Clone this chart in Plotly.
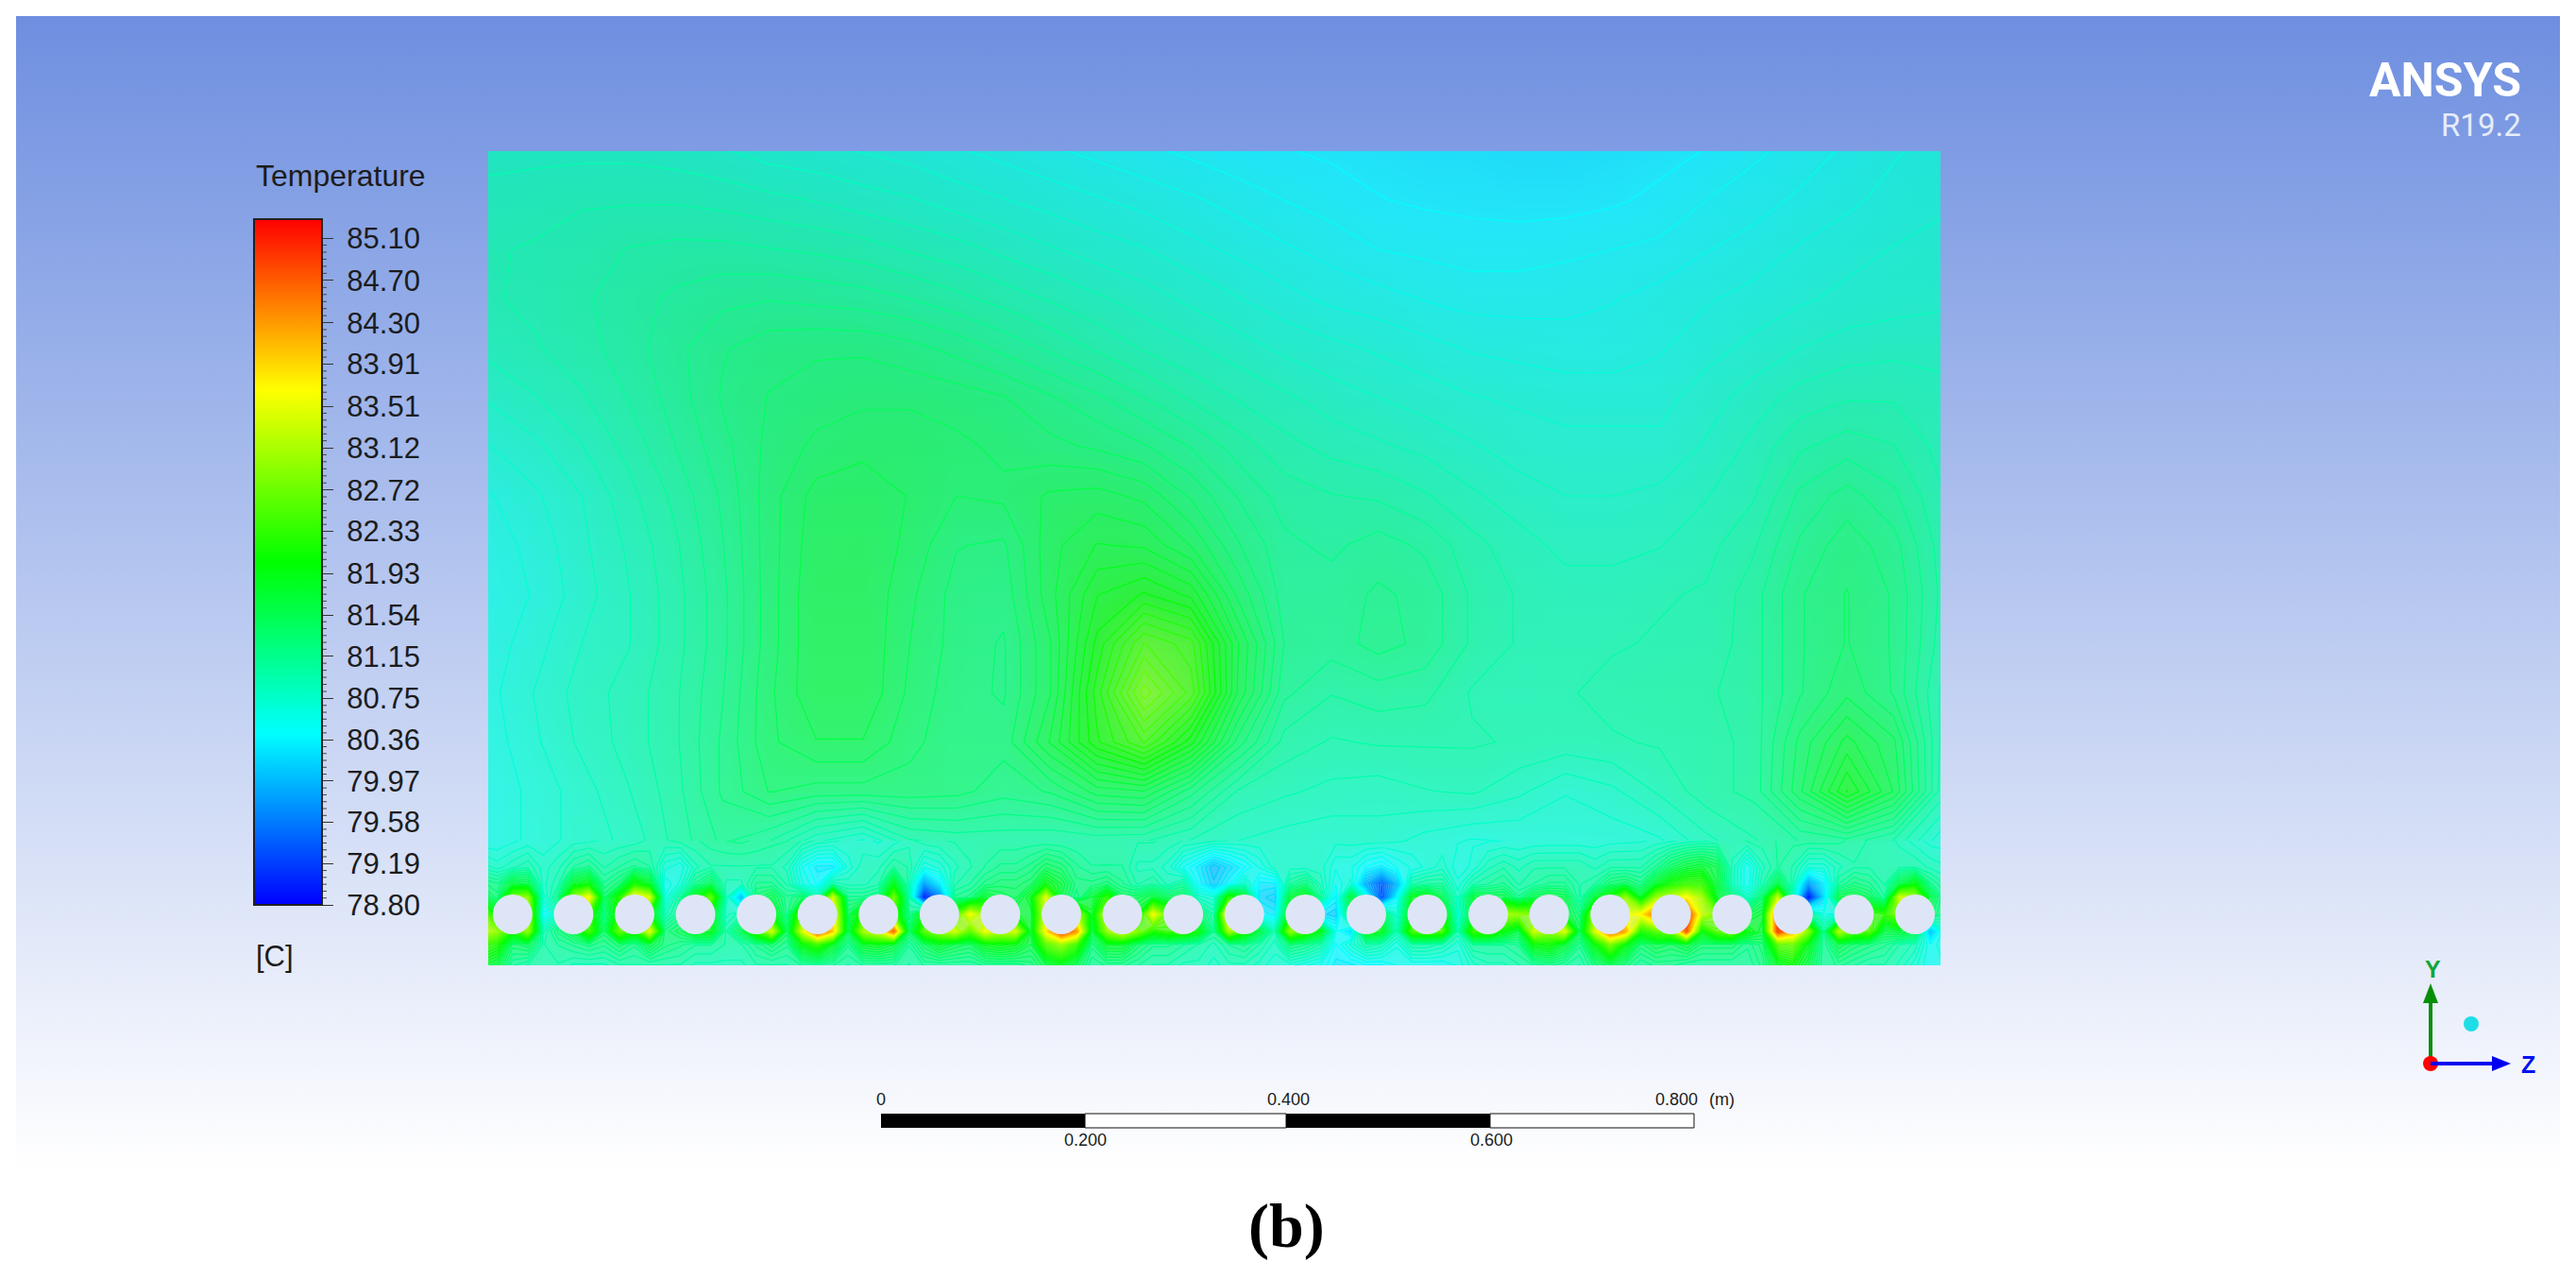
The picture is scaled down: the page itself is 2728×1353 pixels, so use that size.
import numpy as np
import plotly.graph_objects as go

# ---------- chart data (temperatures in deg C) ----------
legend_title = "Temperature"
legend_unit = "[C]"
legend_ticks = [85.10, 84.70, 84.30, 83.91, 83.51, 83.12, 82.72, 82.33, 81.93,
                81.54, 81.15, 80.75, 80.36, 79.97, 79.58, 79.19, 78.80]
rainbow = [[0.0, "rgb(0,0,255)"], [0.25, "rgb(0,255,255)"], [0.5, "rgb(0,255,0)"],
           [0.75, "rgb(255,255,0)"], [1.0, "rgb(255,0,0)"]]
t_min, t_max = 78.80, 85.28

# upper tank region: 15 rows top to bottom, 32 columns left to right
upper_r00 = [80.9,80.9,80.9,80.9,80.88,80.85,80.8,80.78,80.75,80.72,80.68,80.64,80.6,80.56,80.52,80.48,80.44,80.42,80.4,80.38,80.36,80.35,80.33,80.33,80.35,80.38,80.42,80.48,80.54,80.6,80.66,80.7]
upper_r01 = [80.95,80.97,81,81,81,80.98,80.95,80.92,80.88,80.85,80.8,80.76,80.72,80.68,80.64,80.6,80.55,80.5,80.46,80.42,80.4,80.39,80.38,80.38,80.4,80.44,80.5,80.55,80.6,80.65,80.7,80.74]
upper_r02 = [81,81.02,81.05,81.1,81.12,81.12,81.1,81.08,81.05,81,80.96,80.9,80.85,80.8,80.76,80.7,80.65,80.6,80.55,80.5,80.48,80.46,80.46,80.48,80.5,80.52,80.58,80.62,80.68,80.72,80.76,80.78]
upper_r03 = [81,81.03,81.08,81.14,81.2,81.24,81.26,81.24,81.22,81.18,81.12,81.06,81,80.94,80.88,80.82,80.76,80.7,80.65,80.62,80.58,80.55,80.55,80.56,80.58,80.62,80.66,80.7,80.74,80.78,80.8,80.82]
upper_r04 = [80.95,81,81.06,81.14,81.24,81.34,81.4,81.42,81.42,81.38,81.32,81.24,81.16,81.08,81,80.94,80.88,80.82,80.78,80.74,80.7,80.66,80.64,80.62,80.62,80.66,80.72,80.78,80.84,80.88,80.9,80.9]
upper_r05 = [80.85,80.92,81,81.1,81.22,81.36,81.44,81.48,81.5,81.5,81.48,81.44,81.36,81.28,81.18,81.08,81,80.94,80.88,80.84,80.8,80.76,80.74,80.72,80.72,80.72,80.8,80.88,80.96,81,81,80.95]
upper_r06 = [80.75,80.82,80.92,81.04,81.18,81.32,81.46,81.54,81.58,81.58,81.54,81.5,81.46,81.42,81.36,81.26,81.14,81.04,80.98,80.94,80.9,80.85,80.8,80.78,80.78,80.78,80.85,80.95,81.08,81.14,81.1,80.98]
upper_r07 = [80.66,80.74,80.84,80.98,81.12,81.28,81.48,81.64,81.66,81.6,81.52,81.54,81.62,81.64,81.58,81.42,81.26,81.14,81.1,81.08,81.02,80.94,80.88,80.84,80.84,80.86,80.92,81,81.2,81.3,81.2,81.02]
upper_r08 = [80.62,80.7,80.82,80.94,81.08,81.26,81.48,81.66,81.68,81.58,81.44,81.42,81.66,81.78,81.76,81.6,81.36,81.2,81.16,81.22,81.16,81.04,80.96,80.9,80.9,80.92,80.98,81.08,81.28,81.4,81.3,81.06]
upper_r09 = [80.6,80.68,80.8,80.92,81.06,81.24,81.48,81.68,81.68,81.54,81.4,81.38,81.66,81.94,82.04,81.92,81.5,81.22,81.22,81.28,81.24,81.08,81,80.96,80.96,81,81.02,81.14,81.34,81.44,81.34,81.08]
upper_r10 = [80.62,80.72,80.84,80.92,81.06,81.24,81.48,81.68,81.68,81.52,81.4,81.34,81.6,82.06,82.46,82.32,81.7,81.26,81.22,81.3,81.24,81.08,81,81,81,81.02,81.04,81.14,81.34,81.44,81.34,81.06]
upper_r11 = [80.64,80.76,80.88,80.96,81.08,81.26,81.5,81.68,81.68,81.5,81.38,81.34,81.6,82.16,82.76,82.42,81.68,81.2,81.1,81.14,81.12,81,80.98,81,81.04,81.06,81.08,81.14,81.34,81.5,81.34,81]
upper_r12 = [80.62,80.74,80.86,80.96,81.08,81.28,81.5,81.6,81.6,81.46,81.38,81.38,81.7,82.1,82.38,81.98,81.4,81.06,81,81.02,81.02,81.02,81.0,80.98,81,81.02,81.06,81.12,81.46,81.72,81.54,81]
upper_r13 = [80.6,80.7,80.8,80.92,81.06,81.28,81.44,81.4,81.4,81.4,81.38,81.3,81.36,81.56,81.6,81.3,81,80.94,80.9,80.88,80.92,80.94,80.86,80.76,80.82,80.94,81.06,81.12,81.5,81.95,81.6,80.98]
upper_r14 = [80.6,80.7,80.8,80.86,81.04,81.2,81.1,80.86,80.74,81,81.04,81.04,81.02,81.04,81.02,80.92,80.84,80.8,80.78,80.8,80.72,80.66,80.68,80.7,80.7,80.74,80.9,81,81.1,81.15,81,80.7]

# tube band: for each tube, 4 columns (gap, left, centre, right), each with 8 values top to bottom
tube_00 = [[80.6,80.9,81.3,81.6,82.8,83.3,82.4,81.8],[80.6,80.8,81.2,81.3,82.0,83.0,82.2,81.6],[80.65,80.9,81.7,82.8,82,82.2,81.4,81.1],[80.7,81.0,81.6,83.0,83.2,83.0,81.5,81.0]]
tube_01 = [[80.7,80.8,80.8,80.7,80.4,80.9,81,81],[80.75,80.9,81.0,81.2,80.9,81.3,81.1,81],[80.8,81.1,81.8,83.0,82,81.6,81.2,80.9],[80.82,81.2,82.0,83.7,82.4,82.5,81.3,80.9]]
tube_02 = [[80.85,81.0,81.2,81.4,81.2,81.4,81.2,80.9],[80.86,81.1,81.4,82.2,82.3,82.7,81.4,81.0],[80.88,81.2,82.2,83.8,82.5,82.2,81.2,81],[80.95,81.1,81.8,83.4,82,83.5,81.6,81.0]]
tube_03 = [[81,80.7,80.5,80.6,80.9,81.3,81.3,81.0],[81.04,80.6,80.7,81.1,81.2,81.5,81.2,81],[81.08,80.9,81.2,82.0,81.8,81.9,81.1,80.9],[81.14,81,81.5,82.7,81.9,81.9,81.1,80.9]]
tube_04 = [[81.18,81,80.9,80.9,80.8,81,81,80.9],[81.2,81,80.9,80.0,81,81.5,81,80.9],[81.16,81,81.2,81.4,81.6,82.4,81.2,81],[81.12,81,81.2,81.6,82,83.4,81.4,81]]
tube_05 = [[81.1,80.9,81,81.2,81.2,81.4,81.2,81],[81,80.5,80.6,81.4,82.7,83.4,82,81.1],[80.9,80.3,80.4,81,81.5,84.9,82.4,81.1],[80.86,80.3,81,83.4,83.8,84,81.8,81.1]]
tube_06 = [[80.82,80.7,80.9,81.2,81.5,81.5,81.2,81],[80.78,80.9,80.9,81.2,82.3,83.1,81.8,81.1],[80.74,80.9,81,81.3,82,83.5,81.9,81.1],[80.8,81.1,81.9,82.8,82.5,84.6,81.7,81.1]]
tube_07 = [[80.9,81,80.9,81,81.2,81.4,81.1,81],[80.98,80.6,79.8,79.0,82,82.6,81.5,81.1],[81,80.7,80.3,79.6,81.8,83,81.8,81.1],[81.02,80.9,81,81.2,82.4,83.4,81.6,81.1]]
tube_08 = [[81.04,81,81.1,81.3,83.6,82.6,81.5,81.1],[81.04,81.1,81.3,81.8,83.0,83.6,81.9,81.2],[81.04,81.2,81.4,81.6,81.8,83.2,82,81.2],[81.04,81.2,81.4,81.5,81.8,83.4,81.9,81.2]]
tube_09 = [[81.04,81.3,81.5,81.9,81.7,81.7,81.6,81.3],[81.03,81.5,82,83.5,83.4,83.8,82.6,81.6],[81.02,81.4,81.7,81.6,82.5,85,83,81.8],[81.02,81.2,81.3,81.2,83.2,84.3,82.4,81.5]]
tube_10 = [[81.03,81.1,81.3,81.7,81.8,81.6,81.3,81.1],[81.04,81.1,81.4,82.3,83.4,83,81.8,81.2],[81.03,81.1,81.2,81.5,82.2,83.5,81.8,81.2],[81.02,80.9,81,81.5,81.8,82.9,81.4,81.1]]
tube_11 = [[81.02,80.9,81.1,81.7,83.6,82.2,81.2,81],[80.98,80.8,80.9,81.5,82.6,82.4,81.2,81],[80.92,80.5,81.1,81.5,81.8,82.4,81.1,80.9],[80.9,80.3,80.4,80.8,81.4,82,81,80.9]]
tube_12 = [[80.86,80,80.1,80.7,81,81.1,80.9,80.8],[80.84,80.2,80.4,82.3,84.2,83.1,81.1,80.9],[80.82,80.4,80.8,81.9,81.6,82.3,81.2,80.9],[80.81,80.6,80.3,80.2,80.4,81.6,81,80.8]]
tube_13 = [[80.8,80.8,80.3,80.1,80.3,80.9,80.8,80.7],[80.8,80.8,81.1,81.7,82.0,83,81.3,80.7],[80.79,80.8,81.3,82,81.6,82.4,81.2,80.6],[80.78,80.8,80.9,81.1,80.2,81.9,81,80.5]]
tube_14 = [[80.78,80.6,80.5,80.3,80.1,80.5,80.4,80.3],[80.79,80.6,80.7,81.7,81.5,80.2,80.7,80.3],[80.8,80.4,79.9,80.6,81.6,82,81,80.4],[80.8,80.3,79.4,79.3,81.5,81.9,80.9,80.4]]
tube_15 = [[80.77,80.5,80,80.4,80.7,80.9,80.6,80.5],[80.75,80.6,81,81.9,82,82.5,81,80.5],[80.72,80.7,81.1,82,81.7,82.6,81,80.5],[80.7,80.8,81.1,81.5,82.2,82.5,80.9,80.5]]
tube_16 = [[80.68,80.6,80.7,80.8,80.7,80.9,80.7,80.6],[80.66,80.7,81,81.7,81.7,82.4,81.1,80.8],[80.66,80.9,81.1,81.6,81.6,82.5,81.1,80.9],[80.67,81,81.2,81.6,83.1,82,81.1,80.9]]
tube_17 = [[80.68,80.9,81,81.2,83,81.6,81.2,81],[80.69,81,81.1,81.6,82.8,83.4,82,81.1],[80.7,81,81.2,81.7,81.6,83,82.1,81.2],[80.7,81,81.2,81.6,81.7,83.5,81.7,81.1]]
tube_18 = [[80.7,81,81,81,81.3,81.5,81.2,81],[80.7,80.9,81.1,81.7,83.0,83.4,82,81.3],[80.72,81,81.4,82.2,82,84.7,82.8,81.5],[80.73,81,81.5,83,83.5,84.2,82,81.3]]
tube_19 = [[80.74,81,81.3,81.8,83.7,82.2,81.4,81.1],[80.78,81.2,81.8,83,84.6,82.6,81.6,81.2],[80.82,81.5,82.2,83.3,83,82.8,81.5,81.2],[80.88,81.7,82.4,83.7,85.1,84.7,81.7,81.1]]
tube_20 = [[80.9,81.8,82.4,83.1,83.3,82,81.4,81.1],[80.94,81.6,81.7,81.8,82.8,82.6,81.4,81.1],[80.98,80.9,80.9,81.3,81.6,82.8,81.4,81.1],[81.02,80.5,80.5,80.8,81.6,82,81.2,81.1]]
tube_21 = [[81.06,80.9,81,81.4,81.8,81.7,81.4,81.3],[81.1,81.1,81.6,83.3,84.8,84.9,82.6,81.8],[81.12,81,80.9,80.8,82.5,84.2,82.7,82],[81.14,80.7,79.8,78.9,81.2,82.9,81.9,81.6]]
tube_22 = [[81.15,80.7,80.3,80.2,80.6,81.1,81.1,81.1],[81.12,80.9,81.1,81.6,80.5,83.2,81.6,81.2],[81.06,81,81.3,81.7,81.7,82.6,81.4,81.1],[81,81,81.2,81.5,82.4,82.6,81.3,81]]
tube_23 = [[80.98,81,81,81.1,82.3,81.6,81.2,81],[80.9,81.0,81.6,83.4,83.0,81.7,81,80.9],[80.8,81,82,83.1,81.6,81.6,80.9,80.7],[80.72,80.9,81.2,81.6,81.4,80,80.5,80.5]]
band_end = [[80.7,80.85,81,81.1,81.1,80.8,80.7,80.6]]

tube_centres_m = [0.024,0.084,0.144,0.204,0.264,0.324,0.384,0.444,0.504,0.564,0.624,0.684,
                  0.744,0.804,0.864,0.924,0.984,1.044,1.104,1.164,1.224,1.284,1.344,1.404]
scale_labels_top = ["0", "0.400", "0.800"]
scale_labels_bottom = ["0.200", "0.600"]

# ---------- assemble ----------
W, H = 2728, 1353
PX_PER_M = 1076.25
F_L, F_R, F_T, F_S, F_B = 517, 2055, 160, 890, 1022   # field frame in page pixels
px = lambda v: v / W
py = lambda v: 1 - v / H

upper_z = np.array([upper_r00, upper_r01, upper_r02, upper_r03, upper_r04, upper_r05, upper_r06,
                    upper_r07, upper_r08, upper_r09, upper_r10, upper_r11, upper_r12, upper_r13,
                    upper_r14])[::-1]
field_w = (F_R - F_L) / PX_PER_M
field_h = (F_B - F_T) / PX_PER_M
seam = (F_B - F_S) / PX_PER_M
upper_x = np.linspace(0, field_w, upper_z.shape[1])
upper_y = np.linspace(seam, field_h, upper_z.shape[0])

tubes = [tube_00, tube_01, tube_02, tube_03, tube_04, tube_05, tube_06, tube_07, tube_08, tube_09,
         tube_10, tube_11, tube_12, tube_13, tube_14, tube_15, tube_16, tube_17, tube_18, tube_19,
         tube_20, tube_21, tube_22, tube_23, band_end]
band_cols = np.array([c for t in tubes for c in t])
band_z = band_cols.T[::-1]
band_x = tube_centres_m[0] - 0.03 + np.arange(band_cols.shape[0]) * 0.015
band_y = (F_B - np.array([890, 918, 936, 950, 968, 986, 1000, 1022])[::-1]) / PX_PER_M
tube_y = (F_B - 968) / PX_PER_M

fig = go.Figure()

# page background gradient
fig.add_trace(go.Scatter(x=[17, 2711, 2711, 17], y=[17, 17, 1239, 1239], mode="none", fill="toself",
                         fillgradient=dict(type="vertical",
                                           colorscale=[[0, "rgb(255,255,255)"], [1, "rgb(110,143,224)"]]),
                         hoverinfo="skip", showlegend=False, xaxis="x", yaxis="y"))

levels = dict(coloring="lines", start=t_min, end=t_max, size=0.085)
FILL_OPACITY = 0.74
fig.add_trace(go.Heatmap(x=upper_x, y=upper_y, z=upper_z, zsmooth="best", zmin=t_min, zmax=t_max,
                         colorscale=rainbow, opacity=FILL_OPACITY, xaxis="x2", yaxis="y2",
                         colorbar=dict(tickmode="array", tickvals=legend_ticks,
                                       ticktext=["\u00a0" + f"{v:.2f}" for v in legend_ticks],
                                       tickfont=dict(size=31, family="Liberation Sans", color="#1c1c1c"),
                                       ticks="outside", ticklen=11, tickwidth=1, tickcolor="#333333",
                                       thickness=72, thicknessmode="pixels", len=726, lenmode="pixels",
                                       x=px(269), xanchor="left", xpad=0, y=py(958), yanchor="bottom", ypad=0,
                                       outlinecolor="#222222", outlinewidth=2)))
fig.add_trace(go.Contour(x=upper_x, y=upper_y, z=upper_z, zmin=t_min, zmax=t_max, colorscale=rainbow,
                         contours=levels, line=dict(width=1.2, smoothing=0), showscale=False,
                         hoverinfo="skip", xaxis="x2", yaxis="y2"))
fig.add_trace(go.Heatmap(x=band_x, y=band_y, z=band_z, zsmooth="best", zmin=t_min, zmax=t_max,
                         colorscale=rainbow, opacity=FILL_OPACITY, showscale=False, xaxis="x3", yaxis="y3"))
fig.add_trace(go.Contour(x=band_x, y=band_y, z=band_z, zmin=t_min, zmax=t_max, colorscale=rainbow,
                         contours=levels, line=dict(width=1.2, smoothing=0), showscale=False,
                         hoverinfo="skip", xaxis="x3", yaxis="y3"))
fig.add_trace(go.Scatter(x=tube_centres_m, y=[tube_y] * len(tube_centres_m), mode="markers",
                         marker=dict(size=42, color="#DEE5F6", line=dict(width=0)),
                         hoverinfo="skip", showlegend=False, xaxis="x3", yaxis="y3"))

shapes = []
def rect(x0, y0, x1, y1, fill, line=None, lw=0):
    shapes.append(dict(type="rect", xref="paper", yref="paper", x0=px(x0), x1=px(x1), y0=py(y0), y1=py(y1),
                       fillcolor=fill, line=dict(color=line or fill, width=lw), layer="above"))
def circle(cx, cy, r, fill):
    shapes.append(dict(type="circle", xref="paper", yref="paper", x0=px(cx - r), x1=px(cx + r),
                       y0=py(cy - r), y1=py(cy + r), fillcolor=fill, line=dict(width=0), layer="above"))
def tri(pts, fill):
    path = "M " + " L ".join(f"{px(a)},{py(b)}" for a, b in pts) + " Z"
    shapes.append(dict(type="path", xref="paper", yref="paper", path=path, fillcolor=fill,
                       line=dict(width=0), layer="above"))

# minor legend ticks
legend_px = lambda t: 958 - (t - 78.80) * 112.06
for a, b in zip(legend_ticks[1:], legend_ticks[:-1]):
    for f in (1, 2, 3, 4, 5):
        yy = legend_px(a + (b - a) * f / 6)
        shapes.append(dict(type="line", xref="paper", yref="paper", x0=px(341), x1=px(346), y0=py(yy), y1=py(yy),
                           line=dict(color="#444444", width=1), layer="above"))

# scale bar
rect(933, 1179, 1149, 1194, "#000000")
rect(1149, 1179, 1362, 1194, "#ffffff", "#111111", 1)
rect(1362, 1179, 1578, 1194, "#000000")
rect(1578, 1179, 1794, 1194, "#ffffff", "#111111", 1)

# axis triad
rect(2572, 1056, 2576, 1126, "#068F06")
tri([(2574, 1041), (2566, 1062), (2582, 1062)], "#068F06")
circle(2574, 1126, 8, "#FF0000")
rect(2574, 1124, 2642, 1128, "#0000F0")
tri([(2659, 1126), (2639, 1118), (2639, 1134)], "#0000F0")
circle(2617, 1084, 8, "#1FDDE6")

def note(x, y, text, size, color="#1c1c1c", family="Liberation Sans", anchor="center", bold=False):
    return dict(x=px(x), y=py(y), xref="paper", yref="paper", text=f"<b>{text}</b>" if bold else text,
                showarrow=False, xanchor=anchor, yanchor="middle",
                font=dict(size=size, family=family, color=color))

annotations = [
    note(269, 186, legend_title, 32, anchor="left"),
    note(269, 1013, legend_unit, 31, anchor="left"),
    note(933, 1164, scale_labels_top[0], 18),
    note(1364, 1164, scale_labels_top[1], 18),
    note(1775, 1164, scale_labels_top[2], 18),
    note(1823, 1164, "(m)", 18),
    note(1149, 1207, scale_labels_bottom[0], 18),
    note(1579, 1207, scale_labels_bottom[1], 18),
    note(1362, 1298, "(b)", 66, color="#000000", family="Liberation Serif", bold=True),
    note(2672, 85, "ANSYS", 50, color="#ffffff", family="Roboto", anchor="right", bold=True),
    note(2672, 133, "R19.2", 33, color="#E6ECFA", family="Roboto", anchor="right"),
    note(2576, 1026, "Y", 25, color="#10A53A", bold=True),
    note(2677, 1127, "Z", 25, color="#0010F0", bold=True),
]

hidden = dict(visible=False, showgrid=False, zeroline=False, fixedrange=True)
fig.update_layout(
    width=W, height=H, autosize=False, margin=dict(l=0, r=0, t=0, b=0, pad=0),
    paper_bgcolor="#ffffff", plot_bgcolor="rgba(0,0,0,0)", showlegend=False,
    shapes=shapes, annotations=annotations,
    xaxis=dict(domain=[0, 1], range=[0, W], **hidden),
    yaxis=dict(domain=[0, 1], range=[H, 0], **hidden),
    xaxis2=dict(domain=[px(F_L), px(F_R)], range=[0, field_w], anchor="y2", **hidden),
    yaxis2=dict(domain=[py(F_S), py(F_T)], range=[seam, field_h], anchor="x2", **hidden),
    xaxis3=dict(domain=[px(F_L), px(F_R)], range=[0, field_w], anchor="y3", **hidden),
    yaxis3=dict(domain=[py(F_B), py(F_S)], range=[0, seam], anchor="x3", **hidden),
)
fig.write_html("out.html", config=dict(displayModeBar=False, responsive=False),
               post_script="document.body.style.margin='0';")
